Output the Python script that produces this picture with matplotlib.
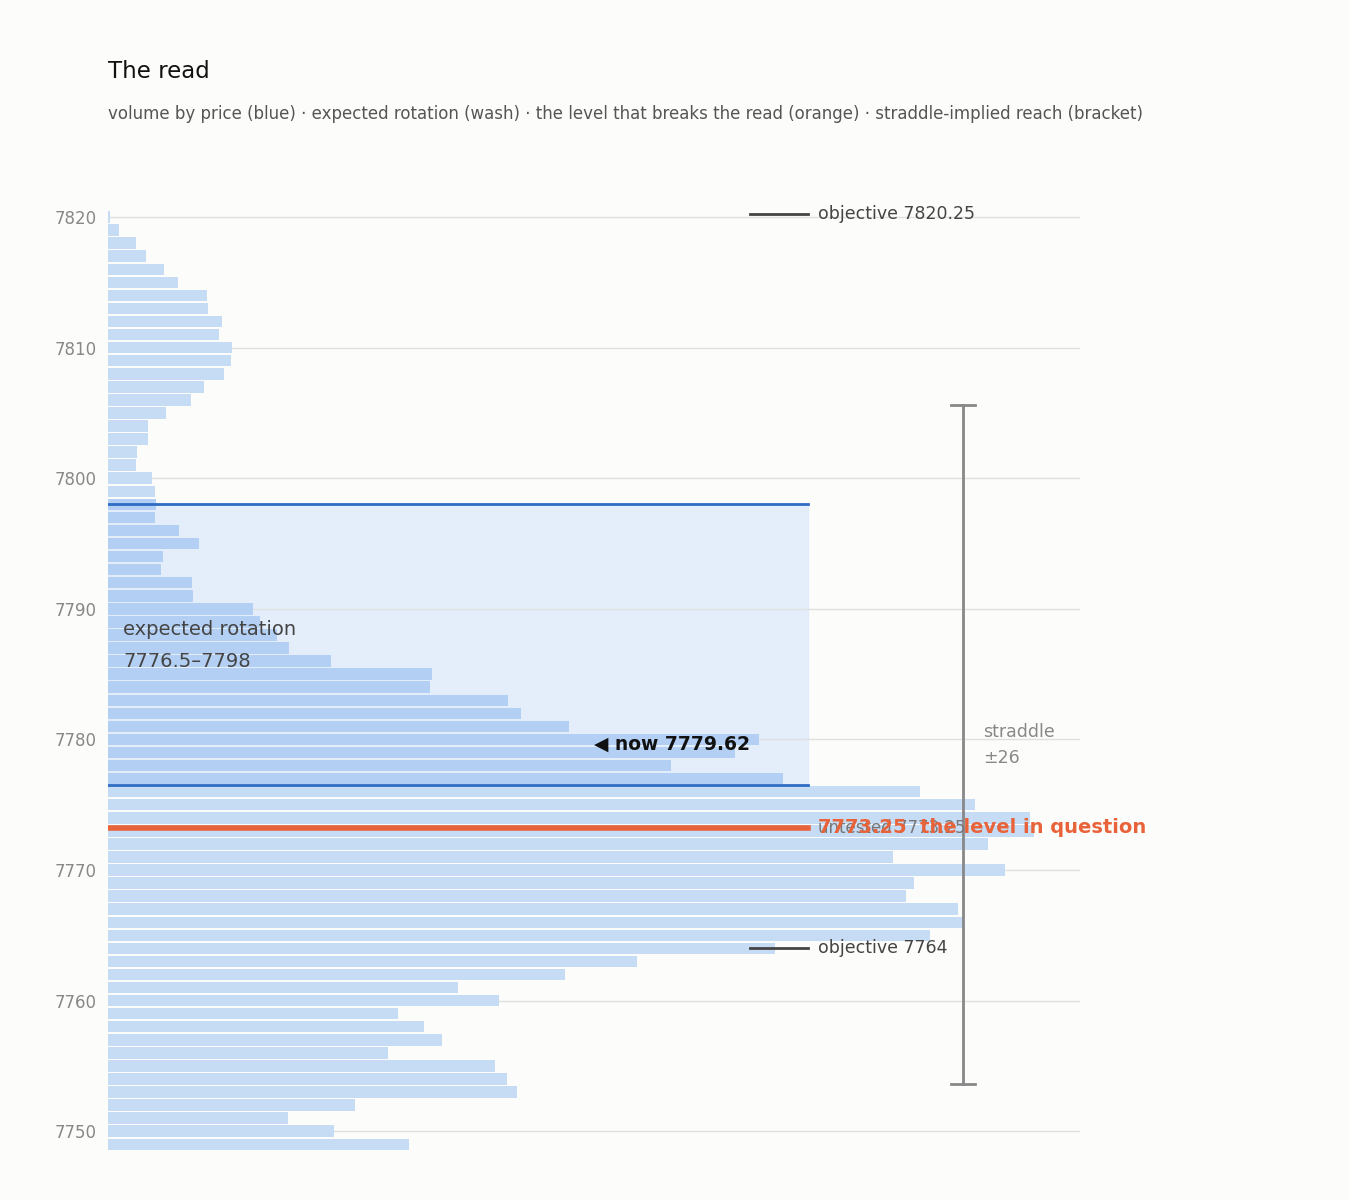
import matplotlib
matplotlib.use("Agg")
import matplotlib.pyplot as plt
import numpy as np

plt.rcParams['font.family'] = ['DejaVu Sans']

prices = list(range(7820, 7748, -1))
volume = [2, 11, 28, 38, 56, 70, 99, 100, 114, 111, 124, 123, 116, 96, 83, 58, 40, 40, 29, 28,
          44, 47, 48, 47, 71, 91, 55, 53, 84, 85, 145, 152, 169, 181, 223, 324, 322, 400, 413, 461,
          651, 627, 563, 675, 812, 867, 922, 926, 880, 785, 897, 806, 798, 850, 855, 822, 667, 529,
          457, 350, 391, 290, 316, 334, 280, 387, 399, 409, 247, 180, 226, 301]
rot_lo, rot_hi = 7776.5, 7798
now = 7779.62
level = 7773.25
obj_hi, obj_lo = 7820.25, 7764
straddle = 26

fig = plt.figure(figsize=(13.5, 12), dpi=100, facecolor="#fcfcfa")
ax = fig.add_axes([0.08, 0.041, 0.72, 0.789])
ax.set_facecolor("#fcfcfa")
cols = ["#b3cff3" if rot_lo <= p <= rot_hi else "#c6dbf4" for p in prices]
ax.barh(prices, volume, height=0.88, color=cols, zorder=2)
ax.axhspan(rot_lo, rot_hi, xmin=0, xmax=700/972, color="#dce8fa", alpha=0.75, zorder=1)
for y in (rot_lo, rot_hi):
    ax.plot([0, 700], [y, y], color="#2f6cc4", lw=2, zorder=3)
ax.plot([0, 700], [level, level], color="#e8623a", lw=4, zorder=4)
ax.text(710, level, "untested 7773.25", color="#777", fontsize=12, va="center", zorder=4)
ax.text(710, level, "7773.25  the level in question", color="#e8623a", fontsize=14,
        fontweight="bold", va="center", zorder=5)
for y, lab in ((obj_hi, "objective 7820.25"), (obj_lo, "objective 7764")):
    ax.plot([642, 700], [y, y], color="#444", lw=2, zorder=3)
    ax.text(710, y, lab, color="#444", fontsize=12.5, va="center")
ax.text(486, now, "◀ now 7779.62", fontsize=13.5, fontweight="bold", va="center", color="#111", zorder=5)
ax.text(15, 7788.4, "expected rotation", fontsize=14, color="#444", va="center", zorder=5)
ax.text(15, 7786.0, "7776.5–7798", fontsize=14, color="#444", va="center", zorder=5)
xb = 855
ax.plot([xb, xb], [now - straddle, now + straddle], color="#888", lw=2)
for y in (now - straddle, now + straddle):
    ax.plot([xb - 12, xb + 12], [y, y], color="#888", lw=2)
ax.text(875, 7780.6, "straddle", color="#888", fontsize=12.5, va="center")
ax.text(875, 7778.6, "±26", color="#888", fontsize=12.5, va="center")

ax.set_xlim(0, 972)
ax.set_ylim(7748.5, 7821)
ax.set_yticks(range(7750, 7821, 10))
ax.tick_params(axis="y", length=0, labelsize=12, labelcolor="#888", pad=8)
ax.set_xticks([])
ax.grid(axis="y", color="#e0e0e0", lw=1, zorder=0)
for s in ax.spines.values():
    s.set_visible(False)
fig.text(0.08, 0.94, "The read", fontsize=16.5, color="#111", va="center")
fig.text(0.08, 0.905, "volume by price (blue) · expected rotation (wash) · the level that breaks the read (orange) · straddle-implied reach (bracket)",
         fontsize=12, color="#555", va="center")
fig.savefig("out.png", dpi=100, facecolor=fig.get_facecolor())
